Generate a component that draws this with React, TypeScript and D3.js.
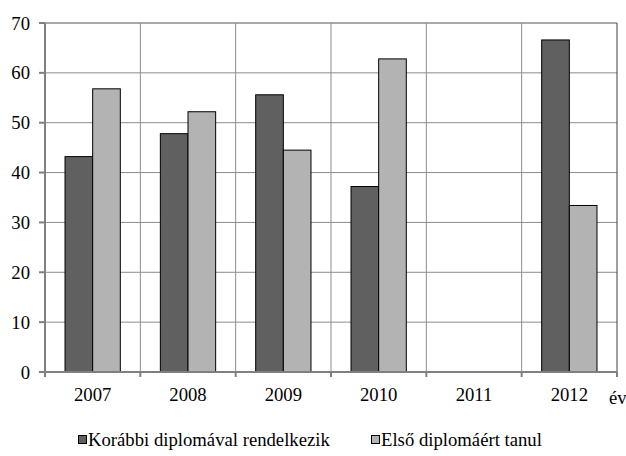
import React from "react";
import * as d3 from "d3";

const years = ["2007", "2008", "2009", "2010", "2011", "2012"];
const seriesNames = ["Korábbi diplomával rendelkezik", "Első diplomáért tanul"];
const korabbi: (number | null)[] = [43.2, 47.8, 55.6, 37.2, null, 66.6];
const elso: (number | null)[] = [56.8, 52.2, 44.5, 62.8, null, 33.4];
const yTicks = [0, 10, 20, 30, 40, 50, 60, 70];
const colors = ["#606060", "#b3b3b3"];

const W = 626;
const H = 456;
const L = 45, R = 617, T = 23, B = 372;
const txt: React.CSSProperties = { fontFamily: '"Liberation Serif", "Times New Roman", serif', fontSize: "18.7px" };

export default function App() {
  const x0 = d3.scaleBand<string>().domain(years).range([L, R]).padding(0);
  const bw = x0.bandwidth();
  const x1 = d3.scaleBand<string>().domain(seriesNames).range([bw * 0.21, bw * 0.79]).padding(0);
  const y = d3.scaleLinear().domain([0, 70]).range([B, T]);
  const data = [korabbi, elso];

  const boundaries = years.map((yr) => x0(yr)!).concat([R]);
  const legendSquareX = [78, 371];
  const legendTextX = [88, 381];

  return (
    <svg width={W} height={H} style={{ position: "absolute", left: 0, top: 0, background: "#fff" }}>
      {yTicks.filter((t) => t > 0).map((t) => (
        <line key={"h" + t} x1={L} x2={R} y1={y(t)} y2={y(t)} stroke="#8c8c8c" strokeWidth={t === 70 ? 1.5 : 1} />
      ))}
      {boundaries.slice(1, -1).map((bx, i) => (
        <line key={"v" + i} x1={bx} x2={bx} y1={T} y2={B} stroke="#8c8c8c" strokeWidth={1} />
      ))}
      <line x1={R} x2={R} y1={T} y2={B} stroke="#404040" strokeWidth={1} />
      {data.map((vals, si) =>
        vals.map((v, i) =>
          v == null ? null : (
            <rect
              key={si + "-" + i}
              x={x0(years[i])! + x1(seriesNames[si])!}
              y={y(v)}
              width={x1.bandwidth()}
              height={B - y(v)}
              fill={colors[si]}
              stroke="#000"
              strokeWidth={1}
            />
          )
        )
      )}
      <line x1={L} x2={L} y1={T} y2={B + 1} stroke="#808080" strokeWidth={2} />
      <line x1={L - 1} x2={R} y1={B} y2={B} stroke="#808080" strokeWidth={2} />
      {yTicks.map((t) => (
        <g key={"yt" + t}>
          <line x1={L - 6} x2={L} y1={y(t)} y2={y(t)} stroke="#808080" strokeWidth={2} />
          <text x={30} y={y(t)} dy="0.35em" textAnchor="end" style={txt} fill="#000">
            {t}
          </text>
        </g>
      ))}
      {boundaries.map((bx, i) => (
        <line key={"xt" + i} x1={bx} x2={bx} y1={B} y2={B + 5} stroke="#808080" strokeWidth={2} />
      ))}
      {years.map((yr) => (
        <text key={"xl" + yr} x={x0(yr)! + bw / 2} y={401} textAnchor="middle" style={txt} fill="#000">
          {yr}
        </text>
      ))}
      <text x={609} y={404} style={txt} fill="#000">év</text>
      {seriesNames.map((s, i) => (
        <g key={"lg" + i}>
          <rect x={legendSquareX[i] + 0.5} y={435.5} width={8} height={8} fill={colors[i]} stroke="#000" strokeWidth={1} />
          <text x={legendTextX[i]} y={446} style={txt} fill="#000">{s}</text>
        </g>
      ))}
    </svg>
  );
}
